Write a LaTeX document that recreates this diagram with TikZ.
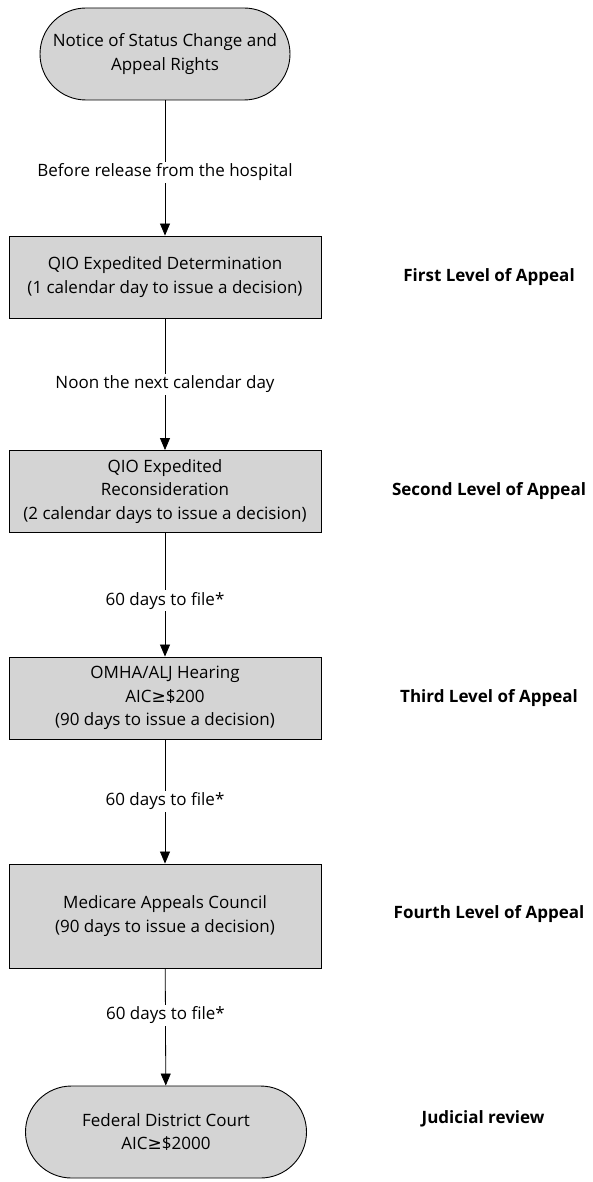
\documentclass[tikz,border=0pt]{standalone}
\usepackage{fontspec}
\setmainfont{Open Sans}
\newfontfamily\symfont{DejaVu Sans}
\usetikzlibrary{arrows.meta}
\definecolor{boxgray}{RGB}{212,212,212}
\newcommand{\fsz}{\fontsize{17}{23.5}\selectfont}
\newcommand{\gesym}{{\symfont ≥}}
\tikzset{
  procbox/.style={draw, fill=boxgray, line width=0.9pt, minimum width=312pt, minimum height=82pt, align=center, font=\fsz, inner sep=0pt},
  termbox/.style={draw, fill=boxgray, line width=0.9pt, rounded corners=46pt, minimum height=92pt, align=center, font=\fsz, inner sep=0pt},
  levellbl/.style={font=\fsz\bfseries, anchor=center},
  edgelbl/.style={fill=white, font=\fsz, inner sep=2pt},
  arr/.style={line width=0.8pt, -{Triangle[length=12pt,width=10pt]}}
}
\begin{document}
\begin{tikzpicture}[x=1pt,y=-1pt]
\useasboundingbox (0,0) rectangle (592,1182);
\node[termbox, minimum width=250pt] (t1) at (165,54) {Notice of Status Change and\\Appeal Rights};
\node[procbox] (b1) at (165,277) {QIO Expedited Determination\\(1 calendar day to issue a decision)};
\node[procbox] (b2) at (165,491.5) {QIO Expedited\\Reconsideration\\(2 calendar days to issue a decision)};
\node[procbox] (b3) at (165,698) {OMHA/ALJ Hearing\\AIC\gesym\$200\\(90 days to issue a decision)};
\node[procbox, minimum height=104pt] (b4) at (165,916) {Medicare Appeals Council\\(90 days to issue a decision)};
\node[termbox, minimum width=281pt] (t2) at (166,1132) {Federal District Court\\AIC\gesym\$2000};

\node[levellbl] (l1) at (489,277) {First Level of Appeal};
\node[levellbl] (l2) at (489,491) {Second Level of Appeal};
\node[levellbl] (l3) at (489,698) {Third Level of Appeal};
\node[levellbl] (l4) at (489,914) {Fourth Level of Appeal};
\node[levellbl] (l5) at (483,1119) {Judicial review};

\draw[arr] (t1.south -| b1.north) -- node[edgelbl, pos=0.53]{Before release from the hospital} (b1.north);
\draw[arr] (b1) -- node[edgelbl, pos=0.5]{Noon the next calendar day} (b2);
\draw[arr] (b2) -- node[edgelbl, pos=0.55]{60 days to file*} (b3);
\draw[arr] (b3) -- node[edgelbl, pos=0.5]{60 days to file*} (b4);
\draw[arr] (b4) -- node[edgelbl, pos=0.4]{60 days to file*} (t2);
\end{tikzpicture}
\end{document}
